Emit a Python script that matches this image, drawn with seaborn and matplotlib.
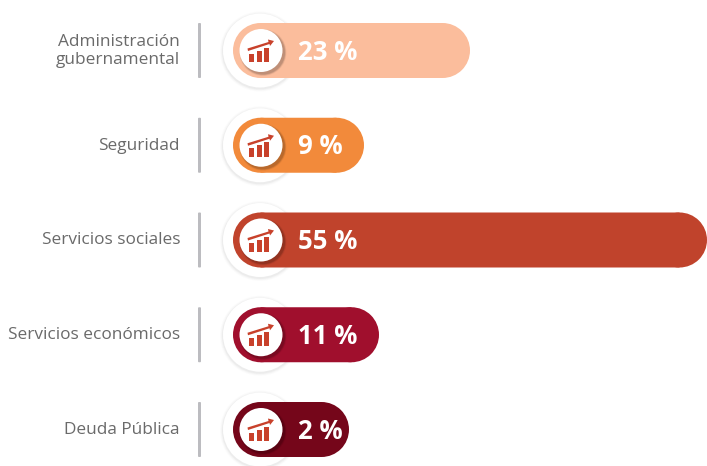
import matplotlib
matplotlib.use("Agg")
import matplotlib.pyplot as plt
import pandas as pd
import seaborn as sns
from matplotlib.patches import Ellipse, FancyBboxPatch, Polygon, Rectangle

categories = ["Administración\ngubernamental", "Seguridad", "Servicios sociales",
              "Servicios económicos", "Deuda Pública"]
percent_labels = ["23 %", "9 %", "55 %", "11 %", "2 %"]
# drawn length of each pill (not proportional to the percent)
bar_ends = [470, 364, 707, 379, 349]
colors = ["#fbbd9c", "#f28a3b", "#c0432c", "#a00f2d", "#75061a"]

ROW = 94.75  # pixels between rows
BAR_LEFT = 233
CAP = 27.5
ICON_RED = "#c8412b"

sns.set_theme(style="white")
plt.rcParams["font.family"] = ["Open Sans", "DejaVu Sans"]

df = pd.DataFrame({"cat": categories, "end": bar_ends})

fig = plt.figure(figsize=(7.07, 4.66), dpi=100)
ax = fig.add_axes([0, 0, 1, 1])
sns.barplot(data=df, x="end", y="cat", hue="cat", palette=colors, legend=False,
            width=2 * CAP / ROW, saturation=1, ax=ax, zorder=3)
ax.set_xlim(0, 707)
ax.set_ylim((466 - 50.5) / ROW, -50.5 / ROW)
ax.axis("off")


def circle(cx, row, r, dx=0, dy=0, **kw):
    ax.add_patch(Ellipse((cx + dx, row + dy / ROW), 2 * r, 2 * r / ROW, **kw))


# turn the square bars into pills: shorten them and add round caps
for p in list(ax.patches):
    y = p.get_y() + p.get_height() / 2
    right = p.get_width()
    col = p.get_facecolor()
    p.set_x(BAR_LEFT + CAP)
    p.set_width(right - BAR_LEFT - 2 * CAP)
    p.set_edgecolor("none")
    p.set_snap(False)
    circle(BAR_LEFT + CAP, y, CAP, fc=col, ec="none", zorder=3)
    circle(right - CAP, y, CAP, fc=col, ec="none", zorder=3)

for i, name in enumerate(categories):
    # separator
    ax.add_patch(FancyBboxPatch((198, i - CAP / ROW), 3, 2 * CAP / ROW,
                                boxstyle="round,pad=0,rounding_size=1",
                                mutation_aspect=1 / ROW, fc="#bcbcc0", ec="none", zorder=2))
    # big halo circle behind the pill
    for r, a in [(40, 0.02), (39, 0.03), (38, 0.05)]:
        circle(260, i, r, dy=1, fc="#555555", alpha=a, ec="none", zorder=1)
    circle(260, i, 37, fc="white", ec="none", zorder=2)
    # inner circle with a soft shadow to the lower right
    for r, a in [(23.5, 0.04), (23, 0.05), (22.5, 0.07), (22, 0.09)]:
        circle(261, i, r, dx=2, dy=2, fc="black", alpha=a, ec="none", zorder=4)
    circle(261, i, 21.5, fc="white", ec="none", zorder=5)
    # icon: three columns and a rising arrow
    for left, top in [(249, 3), (256.5, 0), (264, -3)]:
        ax.add_patch(Rectangle((left, i + top / ROW), 5.2, (11.5 - top) / ROW,
                               fc=ICON_RED, ec="none", zorder=6))
    ax.add_patch(Polygon([(247.5, i - 2 / ROW), (268.5, i - 8.5 / ROW), (268, i - 11 / ROW),
                          (274, i - 9.5 / ROW), (270, i - 4.5 / ROW), (269.5, i - 6.5 / ROW),
                          (248, i + 0.5 / ROW)],
                         fc=ICON_RED, ec="none", zorder=6))
    # texts
    ax.text(180, i + 0.5 / ROW, name, ha="right", va="center", fontsize=12.4, color="#6a6a6a",
            linespacing=1.25, zorder=7)
    ax.text(298, i + 1.5 / ROW, percent_labels[i], ha="left", va="center", fontsize=18.5,
            fontweight="bold", color="white", zorder=7)

fig.savefig("out.png", dpi=100, facecolor="white")
